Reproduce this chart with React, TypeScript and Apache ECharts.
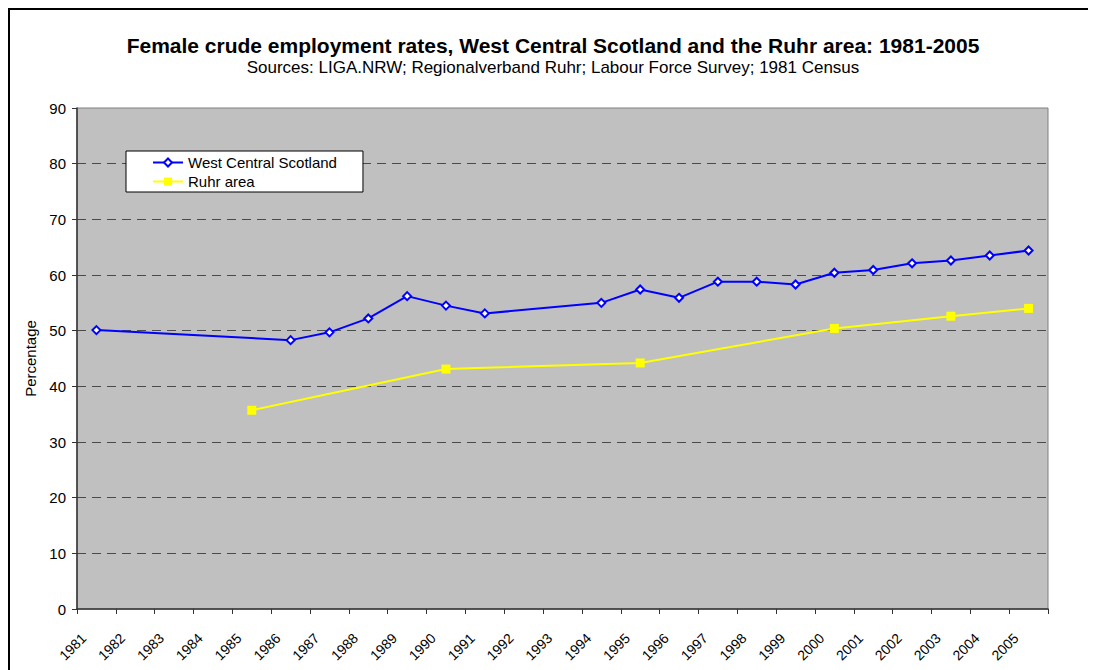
import React, { useEffect, useRef } from "react";
import * as echarts from "echarts";

const years = [
  "1981", "1982", "1983", "1984", "1985", "1986", "1987", "1988", "1989", "1990",
  "1991", "1992", "1993", "1994", "1995", "1996", "1997", "1998", "1999", "2000",
  "2001", "2002", "2003", "2004", "2005",
];

const westCentralScotland: (number | null)[] = [
  50.1, null, null, null, null, 48.3, 49.7, 52.2, 56.2, 54.5,
  53.1, null, null, 55.0, 57.4, 55.9, 58.8, 58.8, 58.3, 60.4,
  60.9, 62.1, 62.6, 63.5, 64.4,
];

const ruhrArea: (number | null)[] = [
  null, null, null, null, 35.7, null, null, null, null, 43.1,
  null, null, null, null, 44.2, null, null, null, null, 50.4,
  null, null, 52.6, null, 54.0,
];

const yTicks = [0, 10, 20, 30, 40, 50, 60, 70, 80, 90];

const FONT = "'Liberation Sans', Arial, sans-serif";

export default function App() {
  const ref = useRef<HTMLDivElement>(null);
  useEffect(() => {
    if (!ref.current) return;
    const chart = echarts.init(ref.current, null, { renderer: "svg" });
    const splitColors = yTicks.map((v, i) =>
      i === 0 || i === yTicks.length - 1 ? "rgba(0,0,0,0)" : "#4a4a4a"
    );
    chart.setOption({
      animation: false,
      backgroundColor: "#ffffff",
      textStyle: { fontFamily: FONT },
      title: [
        {
          text: "Female crude employment rates, West Central Scotland and the Ruhr area: 1981-2005",
          left: "center",
          top: 20,
          textStyle: { fontFamily: FONT, fontSize: 21, fontWeight: "bold", color: "#000" },
        },
        {
          text: "Sources: LIGA.NRW; Regionalverband Ruhr; Labour Force Survey; 1981 Census",
          left: "center",
          top: 44,
          textStyle: { fontFamily: FONT, fontSize: 17, fontWeight: "normal", color: "#000" },
        },
      ],
      legend: {
        orient: "vertical",
        left: 116,
        top: 141,
        backgroundColor: "#ffffff",
        borderColor: "#000000",
        borderWidth: 1,
        borderRadius: 0,
        padding: [4, 26, 3, 26],
        itemGap: 4,
        itemWidth: 30,
        itemHeight: 10,
        textStyle: { fontFamily: FONT, fontSize: 15, color: "#000" },
        data: ["West Central Scotland", "Ruhr area"],
      },
      grid: {
        left: 67,
        right: 48,
        top: 98,
        bottom: 61,
        show: true,
        backgroundColor: "#C0C0C0",
        borderColor: "#808080",
        borderWidth: 1,
        containLabel: false,
      },
      xAxis: {
        type: "category",
        data: years,
        boundaryGap: true,
        axisLine: { show: true, lineStyle: { color: "#333", width: 1.5 } },
        axisTick: { show: true, alignWithLabel: false, length: 5, lineStyle: { color: "#333" } },
        axisLabel: {
          interval: 0,
          rotate: 45,
          fontFamily: FONT,
          fontSize: 14,
          color: "#000",
          margin: 14,
          padding: [0, 18, 0, 0],
        },
        splitLine: { show: false },
      },
      yAxis: {
        type: "value",
        min: 0,
        max: 90,
        interval: 10,
        name: "Percentage",
        nameLocation: "middle",
        nameGap: 32,
        nameTextStyle: { fontFamily: FONT, fontSize: 15, color: "#000" },
        axisLine: { show: true, lineStyle: { color: "#333", width: 1.5 } },
        axisTick: { show: true, length: 5, lineStyle: { color: "#333" } },
        axisLabel: { fontFamily: FONT, fontSize: 15, color: "#000", margin: 11 },
        splitLine: {
          show: true,
          lineStyle: { color: splitColors, type: [9, 6], width: 1.2 },
        },
      },
      series: [
        {
          name: "West Central Scotland",
          type: "line",
          data: westCentralScotland,
          connectNulls: true,
          symbol: "emptyDiamond",
          symbolSize: 8,
          lineStyle: { color: "#0000FF", width: 2 },
          itemStyle: { color: "#0000FF", borderColor: "#0000FF", borderWidth: 1.5 },
        },
        {
          name: "Ruhr area",
          type: "line",
          data: ruhrArea,
          connectNulls: true,
          symbol: "rect",
          symbolSize: 9,
          lineStyle: { color: "#FFFF00", width: 2 },
          itemStyle: { color: "#FFFF00", borderWidth: 0 },
        },
      ],
    });
    return () => chart.dispose();
  }, []);

  return (
    <div
      style={{
        width: 1086,
        height: 660,
        borderTop: "2px solid #000",
        borderLeft: "2px solid #000",
        background: "#fff",
      }}
    >
      <div ref={ref} style={{ width: 1086, height: 660 }} />
    </div>
  );
}
